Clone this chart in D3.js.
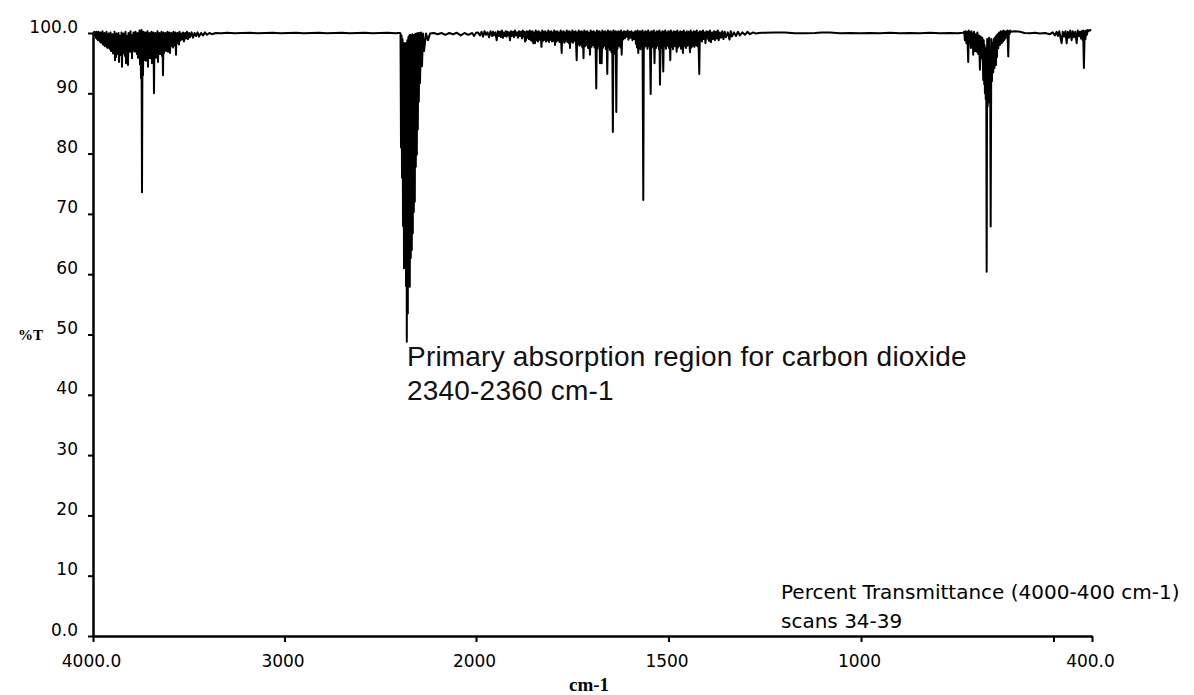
<!DOCTYPE html>
<html>
<head>
<meta charset="utf-8">
<title>CO2 IR spectrum, %T</title>
<script src="https://cdn.jsdelivr.net/npm/d3@7/dist/d3.min.js"></script>
<style>
  body { margin: 0; background: #fff; }
  svg { display: block; }
</style>
</head>
<body>
<svg id="chart" width="1194" height="695"></svg>
<script>
// Axis ticks (wavenumber in cm-1, transmittance in %)
const xTicks = [4000, 3000, 2000, 1500, 1000, 500, 400];
const xTickLabels = ["4000.0", "3000", "2000", "1500", "1000", "", "400.0"];
const yTicks = [0, 10, 20, 30, 40, 50, 60, 70, 80, 90, 100];
const yTickLabels = ["0.0", "10", "20", "30", "40", "50", "60", "70", "80", "90", "100.0"];

// Spectrum, [wavenumber, %T], high to low wavenumber.
// O-H stretch band of water vapour
const waterStretch = [
  [4000,100.0],[3992,100.2],
  [3989.6,99.5],[3987,100.1],[3984.3,99.2],[3981.7,100.2],[3979.1,99.0],[3976.5,99.9],
  [3973.9,98.8],[3971.3,100.2],[3968.7,98.9],[3966,99.8],[3963.4,98.6],[3960.8,100.1],
  [3958.2,98.4],[3955.6,99.7],[3953.0,98.5],[3950.4,100.3],[3947.8,98.1],[3945.2,99.6],
  [3942.6,98.0],[3940,100.0],[3937.3,97.8],[3934.7,99.5],[3932.1,98.0],[3929.5,100.2],
  [3926.9,97.6],[3924.3,99.4],[3921.7,97.5],[3919,99.9],[3916.4,97.7],[3913.8,99.6],
  [3911.2,97.3],[3908.6,100.1],[3906.0,97.0],[3903.4,99.3],[3900.8,97.4],[3898.2,99.8],
  [3895.6,96.6],[3893,99.5],[3890.3,97.1],[3887.7,100.2],[3885.1,95.5],[3882.5,99.4],
  [3879.9,96.0],[3877.3,99.9],[3874.7,96.9],[3872,99.2],[3869.4,96.5],[3866.8,100.0],
  [3864.2,95.2],[3861.6,99.6],[3859.0,96.8],[3856.4,99.3],[3853.8,96.3],[3851.2,100.1],
  [3848.6,94.4],[3846,99.5],[3843.3,96.6],[3840.7,99.9],[3838.1,97.0],[3835.5,99.4],
  [3832.9,96.2],[3830.3,100.2],[3827.7,95.0],[3825.1,99.6],[3822.5,96.8],[3819.9,99.3],
  [3817.2,94.7],[3814.6,100.0],[3812.0,97.1],[3809.4,99.5],[3806.8,96.9],[3804.2,100.3],
  [3801.6,97.3],[3799,99.7],[3796.3,95.8],[3793.7,99.4],[3791.1,97.0],[3788.5,100.1],
  [3785.9,97.6],[3783.3,99.8],[3780.7,96.9],[3778.1,100.2],[3775.5,97.4],[3772.9,99.6],
  [3770.2,96.5],[3767.6,100.0],[3765.0,95.9],[3762.4,99.5],[3759.8,96.2],[3757.2,100.4],
  [3754.6,94.8],[3752,99.7],[3749.3,92.5],[3746.7,100.5],[3744.1,73.6],[3741.5,99.8],
  [3738.9,93.0],[3736.3,100.2],[3733.7,95.5],[3731.1,99.6],[3728.5,96.1],[3725.9,100.1],
  [3723.2,95.4],[3720.6,99.5],[3718.0,96.0],[3715.4,100.3],[3712.8,94.4],[3710.2,99.7],
  [3707.6,96.5],[3705,100.0],[3702.3,95.8],[3699.7,99.4],[3697.1,96.3],[3694.5,100.2],
  [3691.9,95.0],[3689.3,99.8],[3686.7,96.2],[3684.1,100.1],[3681.5,90.0],[3678.9,99.6],
  [3676.2,96.6],[3673.6,100.0],[3671.0,95.9],[3668.4,99.5],[3665.8,96.4],[3663.2,100.3],
  [3660.6,95.2],[3658,99.7],[3655.3,96.8],[3652.7,100.0],[3650.1,96.5],[3647.5,99.6],
  [3644.9,97.0],[3642.3,100.2],[3639.7,96.2],[3637.1,99.8],[3634.5,93.0],[3631.9,100.1],
  [3629.2,96.7],[3626.6,99.7],[3624.0,97.3],[3621.4,100.0],[3618.8,97.0],[3616.2,99.8],
  [3613.6,97.5],[3611,100.2],[3608.3,96.9],[3605.7,99.9],[3603.1,97.6],[3600.5,100.1],
  [3597.9,96.7],[3595.3,99.7],[3592.7,97.8],[3590.1,100.0],[3587.5,98.0],[3584.9,99.8],
  [3582.2,97.6],[3579.6,100.2],[3577.0,98.2],[3574.4,99.9],[3571.8,97.9],[3569.2,100.1],
  [3566.6,96.4],[3564,99.8],[3561.3,98.3],[3558.7,100.0],[3556.1,98.5],[3553.5,99.9],
  [3550.9,98.1],[3548.3,100.2],[3545.7,98.7],[3540,99.9],[3535.2,98.9],[3530,100.1],
  [3524.8,98.6],[3519,100.0],[3514.4,99.1],[3509,100.2],[3503.9,99.0],[3498,100.0],
  [3493.5,99.3],[3485,100.1],[3477.8,99.2],[3470,100.0],[3462.1,99.5],[3454,100.1],
  [3446.5,99.4],[3436,100.0],[3425.6,99.6],[3415,100.1],[3404.7,99.7],[3392,100.0],
  [3378.6,99.8]
];

// Quiet stretch between the water and CO2 bands
const baselineHigh = [
  [3360,100.0],[3330,99.95],[3300,100.05],[3260,99.95],[3220,100.0],[3180,100.05],
  [3140,99.95],[3100,100.0],[3060,100.05],[3020,99.95],[2980,100.0],[2940,100.05],
  [2900,99.95],[2860,100.0],[2820,100.05],[2780,99.95],[2740,100.0],[2700,100.05],
  [2660,99.95],[2620,100.0],[2580,100.05],[2540,99.95],[2500,100.0],[2460,100.05],
  [2420,99.95],[2407,100.0]
];

// Asymmetric stretch of CO2 (P and R branches)
const co2Stretch = [
  [2396.8,100.0],[2394.2,99.9],[2391.6,81.0],[2389.0,99.6],[2386.4,76.0],[2383.8,99.0],
  [2381.2,68.0],[2378.6,98.4],[2376.0,61.0],[2373.4,98.3],[2370.7,66.0],[2368.1,98.2],
  [2365.5,58.0],[2362.9,98.4],[2361.4,48.8],[2358.7,98.8],[2356.1,53.5],[2353.5,99.3],
  [2350.9,58.0],[2348.3,99.6],[2345.7,57.9],[2343.1,99.7],[2340.5,62.7],[2337.9,99.2],
  [2335.2,64.0],[2332.6,99.8],[2330.0,66.8],[2327.4,99.6],[2324.8,70.3],[2322.2,99.7],
  [2319.6,72.0],[2317.0,99.8],[2314.4,77.8],[2311.8,99.9],[2309.1,79.8],[2306.5,99.9],
  [2303.9,84.0],[2301.3,100.0],[2298.7,88.6],[2295.0,100.0],[2292.4,91.7],[2287.2,100.1],
  [2282.0,94.5],[2276.7,99.9],[2271.5,97.0],[2261.1,99.9],[2250.7,98.8],[2240.2,99.9]
];

const baselineMid = [
  [2220,100.0],[2200,99.8],[2180,100.0],[2160,99.7],[2140,100.0],[2120,99.8],
  [2100,100.05],[2080,99.6],[2060,100.0],[2040,99.7],[2020,100.0],[2010,99.5],[2000,100.05]
];

// H-O-H bending band of water vapour
const waterBend = [
  [1995,100.1],
  [1989.6,99.6],[1985.7,100.2],[1981.8,99.4],[1977.9,100.3],[1974.0,99.7],[1970.1,100.1],
  [1966.2,99.3],[1962.3,100.3],[1958.4,99.5],[1955.9,100.2],[1953.3,99.6],[1949.8,100.1],
  [1946.2,98.8],[1943.2,100.3],[1940.3,99.5],[1937.7,100.2],[1935.1,99.3],[1932.5,100.4],
  [1929.9,99.2],[1927.3,100.1],[1924.7,99.5],[1922.5,100.3],[1920.3,99.4],[1918,100.2],
  [1915.6,99.6],[1913.6,100.1],[1911.7,98.8],[1909.1,100.3],[1906.5,99.5],[1903.9,100.2],
  [1901.3,99.3],[1898.7,100.4],[1896.1,99.6],[1893.5,100.1],[1890.9,99.2],[1888.3,100.3],
  [1885.7,99.5],[1883.1,100.2],[1880.5,99.1],[1878.5,100.4],[1876.6,99.4],[1874.6,100.2],
  [1872.7,98.6],[1871.4,100.1],[1870.2,98.8],[1868.2,100.3],[1866.3,99.2],[1864.3,100.2],
  [1862.4,99.0],[1860.4,100.4],
  [1858.5,98.9],[1857.2,100.2],[1855.9,98.7],[1853.5,100.3],[1851.2,98.3],[1849,100.1],
  [1846.8,98.3],[1844.8,100.4],[1842.9,98.8],[1841,100.2],[1839.0,98.6],[1837,100.3],
  [1835.1,98.9],[1832.5,100.1],[1829.9,97.7],[1828,100.4],[1826.0,98.7],[1824,100.2],
  [1822.1,98.9],[1820.2,100.3],[1818.2,98.6],[1816.3,100.1],[1814.3,98.8],[1812.3,100.4],
  [1810.4,98.5],[1808.4,100.2],[1806.5,98.9],[1804.5,100.3],[1802.6,98.6],[1800.6,100.1],
  [1798.7,98.7],[1796.7,100.4],[1794.8,98.0],[1792.8,100.2],[1790.9,98.6],[1789,100.3],
  [1787.0,98.8],[1785.1,100.1],[1783.2,98.5],[1780.3,100.4],[1777.4,96.7],[1775.8,100.2],
  [1774.1,98.6],[1772.1,100.3],[1770.2,98.4],[1768.2,100.1],[1766.3,98.7],[1764.3,100.4],
  [1762.4,98.5],[1760.4,100.2],[1758.5,98.3],[1757.2,100.3],[1755.9,97.5],[1754,100.1],
  [1752.0,98.6],[1750,100.4],[1748.1,98.4],[1746.1,100.2],[1744.2,98.7],[1741.3,100.3],
  [1738.5,95.5],[1736.8,100.1],
  [1735.1,98.2],[1733.1,100.4],[1731.2,97.9],[1729.2,100.2],[1727.3,98.1],[1725.6,100.3],
  [1723.9,97.6],[1722.3,100.1],[1720.8,95.8],[1718.8,100.4],[1716.9,97.8],[1714.9,100.2],
  [1713.0,98.0],[1711,100.3],[1709.1,97.5],[1706.5,100.1],[1703.9,96.4],[1702,100.4],
  [1700.0,97.7],[1698,100.2],[1696.1,98.0],[1694.1,100.3],[1692.2,97.6],[1689.9,100.1],
  [1687.6,90.8],[1686,100.4],[1684.5,97.4],[1682.5,100.2],[1680.6,97.8],[1679.3,100.3],
  [1678.0,95.0],[1675.8,100.1],[1673.6,95.0],[1671.9,100.4],[1670.2,97.5],[1668.2,100.2],
  [1666.3,97.9],[1664.3,100.3],[1662.4,97.3],[1660.7,100.1],[1659.0,93.2],[1657.4,100.4],
  [1655.9,97.6],[1654,100.2],[1652.0,97.2],[1650,100.3],[1648.1,96.8],[1646.3,100.1],
  [1644.5,83.6],[1643,100.4],[1641.6,96.5],[1640,100.2],[1638.5,97.0],[1637,100.3],
  [1635.6,86.9],[1634,100.1],[1632.5,97.4],[1630.5,100.3],[1628.6,97.9],[1626.6,100.2],
  [1624.7,97.6],[1623.1,100.4],[1621.6,96.4],[1620,100.1],
  [1618.2,98.9],[1615.6,100.3],[1613.0,99.1],[1610.8,100.2],[1608.6,99.4],[1606.3,100.4],
  [1604.0,98.9],[1601.4,100.2],[1598.8,99.2],[1596.2,100.3],[1593.6,98.8],[1591,100.1],
  [1588.4,99.0],[1586.4,100.3],
  [1584.5,98.2],[1583.2,100.2],[1581.9,97.6],[1580.2,100.4],[1578.5,96.7],[1577,100.1],
  [1575.4,97.5],[1574.1,100.3],[1572.8,97.3],[1571.1,100.2],[1569.4,97.8],[1567.5,100.4],
  [1565.5,72.3],[1564,100.1],[1562.4,97.6],[1560.4,100.3],[1558.5,97.9],[1556.5,100.2],
  [1554.6,97.4],[1552.6,100.4],[1550.7,97.8],[1548.5,100.1],[1546.3,89.9],[1544.6,100.3],
  [1542.9,97.6],[1541.3,100.2],[1539.8,97.9],[1538.1,100.4],[1536.4,95.0],[1534.5,100.1],
  [1532.5,97.5],[1530.5,100.3],[1528.6,97.9],[1526.7,100.2],[1524.8,97.3],[1523.5,100.4],
  [1522.2,91.4],[1520.2,100.1],[1518.3,97.6],[1516,100.3],[1513.6,93.6],[1512,100.2],
  [1510.5,97.8],[1508.5,100.4],[1506.6,97.4],[1504.6,100.1],[1502.7,97.9],[1500.7,100.3],
  [1498.8,97.5],[1497.1,100.2],[1495.4,95.5],[1493.8,100.4],[1492.3,97.7],[1490.3,100.1],
  [1488.4,97.3],[1486.4,100.3],[1484.5,97.8],[1481.6,100.2],[1478.8,96.9],[1477.1,100.4],
  [1475.4,97.6],[1473.4,100.1],[1471.5,97.9],[1469.5,100.3],[1467.6,97.4],[1465,100.2],
  [1462.4,96.7],[1460.4,100.4],[1458.5,97.8],[1456.5,100.1],[1454.6,97.5],[1452.6,100.3],
  [1450.7,97.9],[1447.5,100.2],[1444.2,96.8],[1442.3,100.4],[1440.4,97.6],[1438.4,100.1],
  [1436.5,97.9],[1434.5,100.3],[1432.6,97.7],[1430.6,100.2],[1428.7,98.0],[1426.7,100.4],
  [1424.8,97.8],[1422.5,100.1],[1420.1,93.2],[1418.5,100.3],
  [1417.0,98.9],[1415,100.2],[1413.1,98.6],[1410.5,100.4],[1407.9,99.0],[1406,100.1],
  [1404.0,98.3],[1401.4,100.3],[1398.8,99.1],[1396.8,100.2],[1394.9,98.7],[1392.3,100.4],
  [1389.7,98.5],[1387.1,100.1],[1384.5,99.0],[1381.9,100.3],[1379.3,98.8],[1376.7,100.2],
  [1374.1,99.1],[1371.9,100.4],[1369.7,98.8],[1366.7,100.1],[1363.7,99.2],[1360.4,100.3],
  [1357.2,99.0],[1354,100.2],[1350.7,99.3],[1346,100.1],[1341.6,98.9],[1338.4,100.3],
  [1335.2,99.4],[1330,100.1],[1324.8,99.5],[1319.6,100.2],[1314.4,99.6],[1308,100.1],
  [1301.4,99.7],[1295,100.2],[1288.4,99.8],[1280,100.1],[1272.8,99.9],[1265,100.0],
  [1257.3,100.05]
];

const baselineLow = [
  [1249.5,100.05],[1223.5,100.1],[1197.5,100.1],[1171.6,99.95],[1145.6,99.95],[1119.6,100.0],
  [1101.4,100.1],[1080.7,100.1],[1054.7,99.95],[1028.7,100.0],[1002.8,99.95],[976.8,100.0],
  [950.8,99.95],[924.9,100.05],[898.9,99.95],[872.9,100.0],[846.9,99.95],[821.0,100.05],
  [795.0,99.95],[769.0,100.0],[748.2,99.95],[735.2,100.05]
];

// CO2 bending band around 667 cm-1 and the far end of the range
const co2Bend = [
  [732,100.2],[730.1,98.8],[728.2,100.3],[726.2,98.3],[724,100.2],[721.5,95.2],[720,100.4],
  [718.4,98.2],[716.5,100.1],[714.5,97.5],[713.2,100.3],[711.9,97.9],[710.2,99.9],
  [708.5,96.4],[706.3,100.2],[704.1,97.0],[701.9,99.8],[699.7,96.9],[697.6,100.1],
  [695.5,96.5],[693.3,99.6],[691.1,93.9],[689.2,99.4],[687.2,95.8],[684.9,99.2],
  [682.5,92.2],[681.2,98.8],[679.9,91.5],[679,98.0],[678.1,90.0],[677,97.5],
  [676.0,89.0],[674.8,96.8],[673.6,60.4],[672.3,99.0],[671.0,87.8],[669.8,98.6],
  [668.5,88.5],[667.2,99.2],[665.9,89.0],[664.6,97.0],[663.2,67.9],[661.5,99.0],
  [659.9,92.0],[658.2,98.4],[656.5,93.5],[655,99.0],[653.4,94.2],[651.5,99.3],
  [649.5,94.7],[648.2,99.6],[646.9,96.0],[645.2,99.8],[643.5,97.5],[641.3,100.1],
  [639.1,98.0],[636.9,100.3],[634.7,98.3],[633,100.2],[631.3,98.6],[630,100.4],
  [628.7,98.8],[626.8,100.2],[624.8,99.1],[623.2,100.3],[621.7,99.5],[619.6,100.4],
  [617.5,96.1],[616,100.3],[614.4,99.8],[612.5,100.4],[610.6,100.2],
  [600.2,100.3],[587.2,100.2],[575,100.0],[561.3,99.95],[548,100.05],[535.3,99.9],
  [522,100.0],[509.3,99.8],[502,100.1],[496.3,99.6],[492,100.2],[488.5,99.5],[485,100.3],
  [478.9,98.3],[476,100.2],[472.9,99.4],[469,100.3],[465.9,98.3],[462.8,100.2],
  [459.9,99.2],[456.4,100.4],[452.9,98.8],[450,100.3],[447.0,99.3],[443.5,100.2],
  [439.9,98.3],[437,100.4],[434.0,99.5],[431.4,100.2],[428.8,99.1],[426.9,100.3],
  [424.9,98.9],[423,100.4],[421.0,94.2],[419,100.3],[417.1,99.0],[415,100.4],
  [413.2,99.7],[411,100.5],[409.3,100.3],[405.4,100.5],[402,100.4]
];

const spectrum = [].concat(waterStretch, baselineHigh, co2Stretch, baselineMid,
                           waterBend, baselineLow, co2Bend);

// The wavenumber axis is expanded 2x below 2000 cm-1, as on the instrument plot
const x = d3.scaleLinear().domain([4000, 2000, 400]).range([93, 476, 1092]);
const y = d3.scaleLinear().domain([0, 100]).range([636, 33]);

const svg = d3.select("#chart");
const tickFont = "'DejaVu Sans', Verdana, sans-serif";

// x axis
const gx = svg.append("g").attr("transform", "translate(0,636)")
  .call(d3.axisBottom(x).tickValues(xTicks)
    .tickFormat((d, i) => xTickLabels[i]).tickSize(6).tickSizeOuter(0));
gx.select(".domain").attr("stroke", "#000").attr("stroke-width", 2.5);
gx.selectAll(".tick line").attr("stroke", "#000").attr("stroke-width", 2);
gx.selectAll(".tick text")
  .attr("y", 31).attr("dy", 0).attr("dx", -2)
  .attr("fill", "#000")
  .style("font-family", tickFont).style("font-size", "17px");

// y axis
const gy = svg.append("g").attr("transform", "translate(93,0)")
  .call(d3.axisLeft(y).tickValues(yTicks)
    .tickFormat((d, i) => yTickLabels[i]).tickSize(5).tickSizeOuter(0).tickPadding(10));
gy.select(".domain").attr("stroke", "#000").attr("stroke-width", 2.5);
gy.selectAll(".tick line").attr("stroke", "#000").attr("stroke-width", 2);
gy.selectAll(".tick text")
  .attr("dy", 0).attr("y", -1)
  .attr("fill", "#000")
  .style("font-family", tickFont).style("font-size", "17px");

// spectrum trace
const line = d3.line().x(d => x(d[0])).y(d => y(d[1]));
svg.append("path")
  .datum(spectrum)
  .attr("d", line)
  .attr("fill", "none")
  .attr("stroke", "#000")
  .attr("stroke-width", 2)
  .attr("stroke-linejoin", "round");

// axis titles
svg.append("text").attr("x", 18).attr("y", 340)
  .style("font-family", "'Liberation Serif', 'Times New Roman', serif")
  .style("font-weight", "bold").style("font-size", "15px")
  .text("%T");
svg.append("text").attr("x", 589).attr("y", 691).attr("text-anchor", "middle")
  .style("font-family", "'Liberation Serif', 'Times New Roman', serif")
  .style("font-weight", "bold").style("font-size", "19px")
  .text("cm-1");

// annotations
const noteFont = "'Liberation Sans', Arial, sans-serif";
svg.append("text").attr("x", 407).attr("y", 366)
  .style("font-family", noteFont).style("font-size", "28px")
  .style("letter-spacing", "0.2px").attr("fill", "#111")
  .text("Primary absorption region for carbon dioxide");
svg.append("text").attr("x", 407).attr("y", 400)
  .style("font-family", noteFont).style("font-size", "28px")
  .style("letter-spacing", "0.2px").attr("fill", "#111")
  .text("2340-2360 cm-1");

svg.append("text").attr("x", 781).attr("y", 599)
  .style("font-family", tickFont).style("font-size", "20px")
  .text("Percent Transmittance (4000-400 cm-1)");
svg.append("text").attr("x", 781).attr("y", 628)
  .style("font-family", tickFont).style("font-size", "20px")
  .text("scans 34-39");
</script>
</body>
</html>
